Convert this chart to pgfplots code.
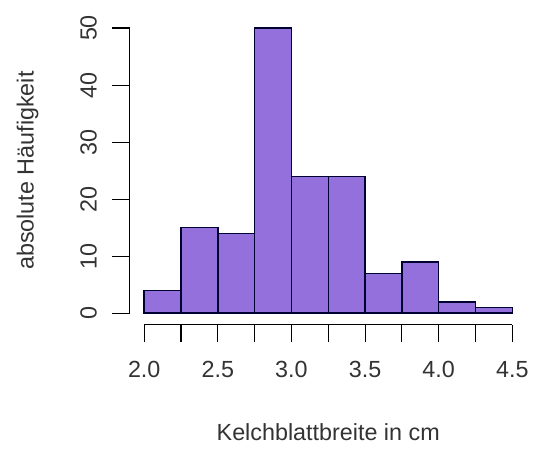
\documentclass[border=0pt]{standalone}
\usepackage{fontspec}
\setmainfont{Liberation Sans}
\usepackage{pgfplots}
\pgfplotsset{compat=1.18}
\definecolor{mpurple}{RGB}{147,112,219}
\begin{document}
\begin{tikzpicture}
\begin{axis}[
  scale only axis, width=298.1pt, height=231pt,
  xmin=1.9, xmax=4.6, ymin=-2, ymax=52,
  axis x line*=bottom, axis y line*=left,
  axis line style={draw=none},
  tick align=outside, major tick length=12.75pt,
  tick style={black, line width=0.8pt},
  xtick={2,2.25,2.5,2.75,3,3.25,3.5,3.75,4,4.25,4.5},
  xticklabels={2.0,,2.5,,3.0,,3.5,,4.0,,4.5},
  ytick={0,10,20,30,40,50},
  yticklabels={0,10,20,30,40,50},
  every tick label/.append style={font=\fontsize{17.5}{21}\selectfont, text=black!80},
  xticklabel style={anchor=center, yshift=-21pt},
  yticklabel style={anchor=center, xshift=-18pt, rotate=90},
  every axis x label/.style={at={(rel axis cs:0.5,0)}, anchor=center, yshift=-80.5pt, font=\fontsize{17.5}{21}\selectfont, text=black!80},
  every axis y label/.style={at={(rel axis cs:0,0.5)}, anchor=center, xshift=-76.5pt, rotate=90, font=\fontsize{17.5}{21}\selectfont, text=black!80},
  xlabel={Kelchblattbreite in cm},
  ylabel={absolute Häufigkeit},
  clip=false,
]
\addplot[ybar interval, fill=mpurple, draw=black!80!blue, line width=1.1pt]
  coordinates {(2.0,4) (2.25,15) (2.5,14) (2.75,50) (3.0,24) (3.25,24) (3.5,7) (3.75,9) (4.0,2) (4.25,1) (4.5,1)};
\draw[black, line width=0.8pt] (axis cs:2,-2) -- (axis cs:4.5,-2);
\draw[black, line width=0.8pt] (axis cs:1.9,0) -- (axis cs:1.9,50);
\coordinate (BL) at (rel axis cs:-0.3258,-0.4104);
\coordinate (TR) at (rel axis cs:1.0151,1.0539);
\end{axis}
\pgfresetboundingbox
\path (BL) rectangle (TR);
\end{tikzpicture}
\end{document}
